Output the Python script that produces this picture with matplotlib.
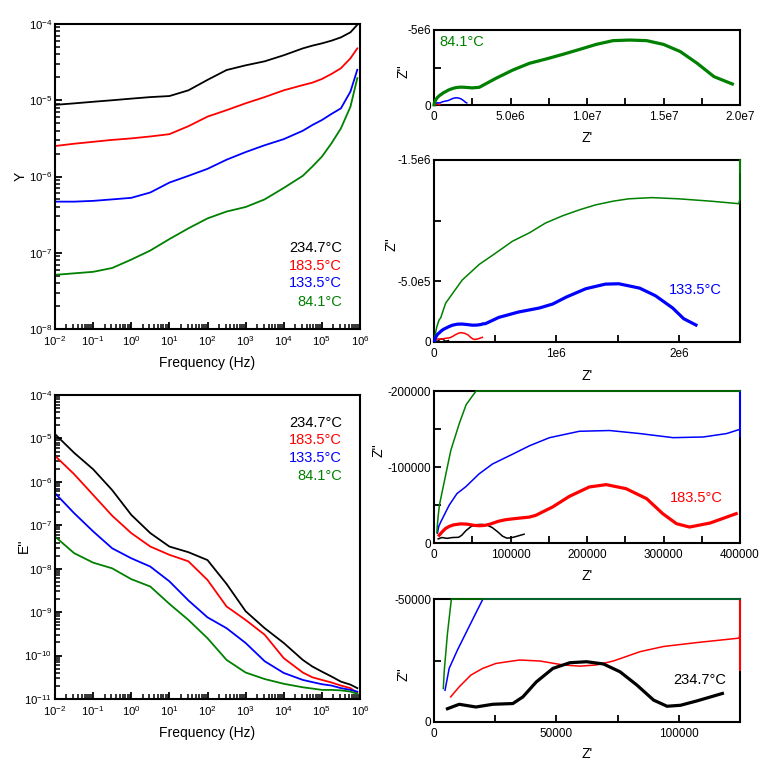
import numpy as np
import matplotlib
matplotlib.use("Agg")
import matplotlib.pyplot as plt
from matplotlib.ticker import LogLocator, FixedLocator, FixedFormatter, NullFormatter

plt.rcParams["font.family"] = ["Liberation Sans", "DejaVu Sans"]
plt.rcParams["mathtext.fontset"] = "custom"
plt.rcParams["mathtext.rm"] = "Liberation Sans"
plt.rcParams["mathtext.it"] = "Liberation Sans:italic"
plt.rcParams["mathtext.default"] = "regular"
plt.rcParams["axes.unicode_minus"] = False

temps = ["234.7°C", "183.5°C", "133.5°C", "84.1°C"]
colors = ["#000000", "#ff0000", "#0000ff", "#008000"]

# frequency grid (Hz)
freq = [1e-2, 3.16e-2, 1e-1, 3.16e-1, 1e0, 3.16e0, 1e1, 3.16e1, 1e2, 3.16e2,
        1e3, 3.16e3, 1e4, 3.16e4, 5.62e4, 1e5, 1.78e5, 3.16e5, 5.62e5, 8.5e5]

# admittance Y
Y_234 = [8.7e-6, 9.1e-6, 9.55e-6, 1.0e-5, 1.05e-5, 1.10e-5, 1.135e-5, 1.35e-5, 1.85e-5, 2.49e-5,
         2.87e-5, 3.24e-5, 3.89e-5, 4.79e-5, 5.2e-5, 5.57e-5, 6.04e-5, 6.68e-5, 7.78e-5, 9.77e-5]
Y_183 = [2.51e-6, 2.69e-6, 2.85e-6, 3.02e-6, 3.16e-6, 3.35e-6, 3.59e-6, 4.57e-6, 6.1e-6, 7.41e-6,
         9.12e-6, 1.10e-5, 1.35e-5, 1.58e-5, 1.70e-5, 1.9e-5, 2.21e-5, 2.63e-5, 3.55e-5, 4.79e-5]
Y_133 = [4.68e-7, 4.68e-7, 4.79e-7, 5.01e-7, 5.25e-7, 6.17e-7, 8.32e-7, 1.02e-6, 1.26e-6, 1.66e-6,
         2.09e-6, 2.57e-6, 3.09e-6, 3.98e-6, 4.73e-6, 5.5e-6, 6.61e-6, 7.83e-6, 1.30e-5, 2.51e-5]
Y_84 = [5.13e-8, 5.37e-8, 5.62e-8, 6.31e-8, 8.13e-8, 1.07e-7, 1.51e-7, 2.09e-7, 2.82e-7, 3.47e-7,
        3.98e-7, 5.01e-7, 7.08e-7, 1.02e-6, 1.35e-6, 1.82e-6, 2.72e-6, 4.28e-6, 8.24e-6, 1.95e-5]

# modulus E''
E_234 = [1.26e-5, 4.68e-6, 1.95e-6, 6.46e-7, 1.74e-7, 6.61e-8, 3.24e-8, 2.40e-8, 1.58e-8, 4.47e-9,
         1.05e-9, 4.27e-10, 1.95e-10, 7.94e-11, 5.6e-11, 4.27e-11, 3.3e-11, 2.51e-11, 2.14e-11, 1.78e-11]
E_183 = [3.98e-6, 1.51e-6, 5.01e-7, 1.66e-7, 6.61e-8, 3.24e-8, 2.09e-8, 1.48e-8, 5.5e-9, 1.35e-9,
         6.61e-10, 3.02e-10, 8.71e-11, 4.07e-11, 3.16e-11, 2.75e-11, 2.4e-11, 2.04e-11, 1.78e-11, 1.38e-11]
E_133 = [5.5e-7, 1.91e-7, 7.24e-8, 2.95e-8, 1.74e-8, 1.12e-8, 5.13e-9, 1.86e-9, 7.59e-10, 4.27e-10,
         1.95e-10, 7.41e-11, 3.98e-11, 2.75e-11, 2.45e-11, 2.19e-11, 2.04e-11, 1.78e-11, 1.62e-11, 1.48e-11]
E_84 = [5.5e-8, 2.29e-8, 1.38e-8, 1.02e-8, 5.75e-9, 3.89e-9, 1.55e-9, 6.61e-10, 2.51e-10, 7.94e-11,
        4.07e-11, 2.88e-11, 2.24e-11, 1.86e-11, 1.74e-11, 1.62e-11, 1.62e-11, 1.58e-11, 1.48e-11, 1.32e-11]

# Nyquist data: Z' and Z'' (ohm)
zre_234 = [5.5e3, 10.3e3, 17.1e3, 24e3, 32.2e3, 36.3e3, 41.8e3, 48.6e3, 55.5e3, 62.3e3,
           69.2e3, 76e3, 82.9e3, 89.7e3, 95.2e3, 100.7e3, 107.5e3, 117.8e3]
zim_234 = [-5.4e3, -7.2e3, -6.1e3, -7.2e3, -7.5e3, -10.2e3, -16.3e3, -21.8e3, -24.1e3, -24.5e3,
           -23.6e3, -20.4e3, -15e3, -8.9e3, -6.4e3, -6.8e3, -8.6e3, -11.6e3]

zre_183 = [6.8e3, 10.3e3, 15.1e3, 19.9e3, 25.3e3, 34.9e3, 43.2e3, 52.7e3, 59.6e3, 66.4e3,
           73.3e3, 84.2e3, 93.8e3, 107.5e3, 124.7e3, 133e3, 155e3, 177e3, 203e3, 225e3,
           251e3, 278e3, 299e3, 317e3, 334e3, 361e3, 395e3]
zim_183 = [-10.2e3, -14.3e3, -19.1e3, -21.8e3, -23.8e3, -25.2e3, -24.8e3, -23.2e3, -22.7e3, -23.2e3,
           -24.8e3, -28.6e3, -30.7e3, -32.3e3, -34.1e3, -36.4e3, -47.4e3, -61.4e3, -73.7e3, -76.8e3,
           -71.5e3, -58.3e3, -38.6e3, -25.4e3, -21e3, -26.3e3, -38.6e3]

zre_133 = [4.5e3, 6.2e3, 9.6e3, 13e3, 17.1e3, 20e3, 30e3, 41.5e3, 59e3, 76.5e3, 103e3, 125e3,
           151e3, 190e3, 229.5e3, 269e3, 312.6e3, 352e3, 382.5e3, 400e3, 0.42e6, 0.53e6,
           0.69e6, 0.86e6, 0.97e6, 1.08e6, 1.24e6, 1.40e6, 1.51e6, 1.68e6, 1.81e6, 1.95e6,
           2.04e6, 2.14e6]
zim_133 = [-12.9e3, -21.8e3, -29.3e3, -36.1e3, -44.3e3, -50e3, -65e3, -74e3, -91e3, -104e3, -117e3, -128e3,
           -138.6e3, -147e3, -148e3, -144e3, -138.6e3, -139.5e3, -144e3, -149.6e3, -0.151e6, -0.203e6,
           -0.247e6, -0.28e6, -0.313e6, -0.37e6, -0.439e6, -0.477e6, -0.48e6, -0.444e6, -0.381e6, -0.28e6,
           -0.192e6, -0.14e6]

zre_84 = [3.8e3, 4.2e3, 5.5e3, 7.1e3, 11e3, 22e3, 33e3, 42e3, 55e3, 95e3, 0.23e6, 0.37e6,
          0.50e6, 0.64e6, 0.78e6, 0.91e6, 1.05e6, 1.19e6, 1.32e6, 1.46e6, 1.59e6, 1.78e6,
          2.0e6, 2.27e6, 2.49e6, 2.96e6, 4.05e6, 5.15e6, 6.24e6, 7.34e6, 8.43e6, 9.53e6,
          10.6e6, 11.7e6, 12.8e6, 13.9e6, 15.0e6, 16.1e6, 17.2e6, 18.3e6, 19.5e6]
zim_84 = [-13.6e3, -21e3, -36e3, -50e3, -69e3, -122e3, -157e3, -182e3, -200e3, -320e3, -0.51e6, -0.64e6,
          -0.73e6, -0.83e6, -0.90e6, -0.98e6, -1.04e6, -1.09e6, -1.13e6, -1.16e6, -1.18e6, -1.19e6,
          -1.18e6, -1.16e6, -1.14e6, -1.18e6, -1.78e6, -2.33e6, -2.78e6, -3.07e6, -3.38e6, -3.71e6,
          -4.04e6, -4.29e6, -4.33e6, -4.29e6, -4.04e6, -3.56e6, -2.78e6, -1.89e6, -1.4e6]

W, H = 763, 763


def px_axes(fig, left, top, right, bottom):
    return fig.add_axes([left / W, 1 - bottom / H, (right - left) / W, (bottom - top) / H])


def style_frame(ax, size=8.5):
    for s in ax.spines.values():
        s.set_linewidth(1.5)
    ax.tick_params(which="both", direction="in", top=False, right=False, labelsize=size)
    ax.tick_params(axis="y", pad=2)
    ax.tick_params(axis="x", pad=4)
    ax.tick_params(which="major", length=5, width=1.3)
    ax.tick_params(which="minor", length=3.5, width=1.1)


fig = plt.figure(figsize=(W / 100, H / 100), dpi=100)

# ---- left: Y and E'' vs frequency ----
left_panels = [
    (24, 329, [Y_234, Y_183, Y_133, Y_84], (1e-8, 1e-4), "Y",
     [0.266, 0.207, 0.151, 0.089], 176, -0.09),
    (395, 699, [E_234, E_183, E_133, E_84], (1e-11, 1e-4), "E''",
     [0.908, 0.852, 0.793, 0.734], 546, -0.08),
]
for top, bottom, series, ylim, ylab, leg_y, ylab_y, ylab_x in left_panels:
    ax = px_axes(fig, 55, top, 360, bottom)
    for vals, c in zip(series, colors):
        ax.plot(freq, vals, color=c, lw=1.3)
    ax.set_xscale("log")
    ax.set_yscale("log")
    ax.set_xlim(1e-2, 1e6)
    ax.set_ylim(*ylim)
    for axis in (ax.xaxis, ax.yaxis):
        axis.set_major_locator(LogLocator(base=10, numticks=20))
        axis.set_minor_locator(LogLocator(base=10, subs=np.arange(2, 10), numticks=20))
        axis.set_minor_formatter(NullFormatter())
    style_frame(ax, size=8.2)
    ax.set_xlabel("Frequency (Hz)", fontsize=10)
    ax.xaxis.set_label_coords(0.5, -0.088)
    ax.set_ylabel(ylab, fontsize=10)
    ax.yaxis.set_label_coords(ylab_x, (bottom - ylab_y) / (bottom - top))
    for t, c, yy in zip(temps, colors, leg_y):
        ax.text(0.941, yy, t, color=c, fontsize=10.5, ha="right", va="center",
                transform=ax.transAxes)

# ---- right: Nyquist panels ----
nyq_series = [(zre_234, zim_234), (zre_183, zim_183), (zre_133, zim_133), (zre_84, zim_84)]

panels = [
    dict(top=30, bottom=105, xlim=2e7, ylim=-5e6,
         xt=np.arange(0, 2.01e7, 2.5e6), xl=["0", "", "5.0e6", "", "1.0e7", "", "1.5e7", "", "2.0e7"],
         yt=[0, -2.5e6, -5e6], yl=["0", "", "-5e6"], bold=3,
         lx=0.016, ly=0.84, ylab=(-0.076, 0.45), xlab_y=-0.347),
    dict(top=160, bottom=342, xlim=2.5e6, ylim=-1.5e6,
         xt=np.arange(0, 2.51e6, 5e5), xl=["0", "", "1e6", "", "2e6", ""],
         yt=[0, -5e5, -1e6, -1.5e6], yl=["0", "-5.0e5", "", "-1.5e6"], bold=2,
         lx=0.768, ly=0.286, ylab=(-0.115, 0.54), xlab_y=-0.148),
    dict(top=391, bottom=543, xlim=4e5, ylim=-2e5,
         xt=np.arange(0, 4.01e5, 5e4), xl=["0", "", "100000", "", "200000", "", "300000", "", "400000"],
         yt=[0, -5e4, -1e5, -1.5e5, -2e5], yl=["0", "", "-100000", "", "-200000"], bold=1,
         lx=0.771, ly=0.296, ylab=(-0.157, 0.61), xlab_y=-0.171),
    dict(top=599, bottom=722, xlim=1.25e5, ylim=-5e4,
         xt=np.arange(0, 1.26e5, 2.5e4), xl=["0", "", "50000", "", "100000", ""],
         yt=[0, -2.5e4, -5e4], yl=["0", "", "-50000"], bold=0,
         lx=0.781, ly=0.341, ylab=(-0.076, 0.39), xlab_y=-0.203),
]

for p in panels:
    ax = px_axes(fig, 434, p["top"], 740, p["bottom"])
    # thin curves first (black -> green), highlighted curve last
    order = [i for i in range(4) if i != p["bold"]] + [p["bold"]]
    for z, i in enumerate(order):
        zr, zi = nyq_series[i]
        # values beyond the axis range are drawn on its edge
        xr = np.clip(np.array(zr), 0, p["xlim"])
        yi = np.clip(np.array(zi), p["ylim"], 0)
        bold = i == p["bold"]
        ax.plot(xr, yi, color=colors[i], lw=2.3 if bold else 1.1,
                clip_on=False, zorder=3 + z)
    ax.set_xlim(0, p["xlim"])
    ax.set_ylim(0, p["ylim"])
    ax.xaxis.set_major_locator(FixedLocator(p["xt"]))
    ax.xaxis.set_major_formatter(FixedFormatter(p["xl"]))
    ax.yaxis.set_major_locator(FixedLocator(p["yt"]))
    ax.yaxis.set_major_formatter(FixedFormatter(p["yl"]))
    style_frame(ax)
    ax.set_xlabel("Z'", fontsize=10)
    ax.xaxis.set_label_coords(0.5, p["xlab_y"])
    ax.set_ylabel("Z''", fontsize=10)
    ax.yaxis.set_label_coords(*p["ylab"])
    ax.text(p["lx"], p["ly"], temps[p["bold"]], color=colors[p["bold"]], fontsize=10.5,
            ha="left", va="center", transform=ax.transAxes)

fig.savefig("out.png", dpi=100, facecolor="white")
